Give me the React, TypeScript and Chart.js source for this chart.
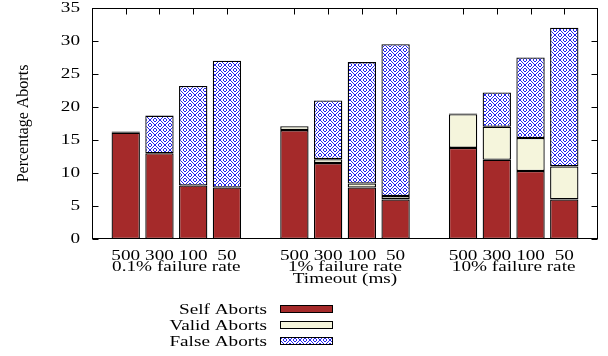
import React, { useEffect, useRef } from "react";
import { Chart, registerables } from "chart.js";

Chart.register(...registerables);

// ---- data ----
const timeouts = ["500", "300", "100", "50"];
const groups = ["0.1% failure rate", "1% failure rate", "10% failure rate"];
const selfAborts = [16.1, 13.0, 8.1, 7.8, 16.5, 11.5, 7.8, 6.0, 13.8, 12.0, 10.3, 6.0];
const validAborts = [0.2, 0, 0, 0, 0.6, 0.6, 0.6, 0.5, 5.1, 5.0, 5.0, 5.0];
const falseAborts = [0, 5.7, 15.1, 19.2, 0, 8.9, 18.4, 23.0, 0.1, 5.2, 12.2, 21.0];
const yTicks = [0, 5, 10, 15, 20, 25, 30, 35];
const xTitle = "Timeout (ms)";
const yTitle = "Percentage Aborts";
const seriesNames = ["Self Aborts", "Valid Aborts", "False Aborts"];

const FAMILY = "\"Liberation Serif\", \"Times New Roman\", Times, serif";
const FONT = "15px " + FAMILY;
const SX = 1.28;

function txt(ctx: CanvasRenderingContext2D, s: string, x: number, y: number, align: CanvasTextAlign, baseline: CanvasTextBaseline = "alphabetic") {
  ctx.save();
  ctx.translate(x, y);
  ctx.scale(SX, 1);
  ctx.textAlign = align;
  ctx.textBaseline = baseline;
  ctx.fillText(s, 0, 0);
  ctx.restore();
}

function makePattern(ctx: CanvasRenderingContext2D): CanvasPattern | string {
  const c = document.createElement("canvas");
  c.width = 10;
  c.height = 10;
  const p = c.getContext("2d");
  if (!p) return "#8080ff";
  p.fillStyle = "#ffffff";
  p.fillRect(0, 0, 10, 10);
  p.fillStyle = "#2424f0";
  const pts: number[][] = [];
  for (let i = 0; i < 10; i++) {
    pts.push([i, i]);
    pts.push([9 - i, i]);
  }
  const ring = [
    [4, 8], [5, 8], [3, 9], [6, 9], [3, 0], [6, 0], [4, 1], [5, 1],
    [8, 4], [8, 5], [9, 3], [9, 6], [0, 3], [0, 6], [1, 4], [1, 5],
  ];
  for (const [x, y] of pts.concat(ring)) p.fillRect(x, y, 1, 1);
  return ctx.createPattern(c, "repeat") || "#8080ff";
}

function pad(arr: number[]): (number | null)[] {
  const out: (number | null)[] = [null];
  groups.forEach((_, g) => {
    for (let i = 0; i < timeouts.length; i++) {
      const v = arr[g * timeouts.length + i];
      out.push(v > 0 ? v : null);
    }
    out.push(null);
  });
  return out;
}

export default function App() {
  const ref = useRef<HTMLCanvasElement | null>(null);
  useEffect(() => {
    const canvas = ref.current;
    if (!canvas) return;
    const ctx = canvas.getContext("2d")!;
    const pattern = makePattern(ctx);
    const colors: (string | CanvasPattern)[] = ["#a52a2a", "#f5f5dc", pattern];

    const labels: string[] = [""];
    groups.forEach(() => {
      timeouts.forEach((t) => labels.push(t));
      labels.push("");
    });

    const decor = {
      id: "decor",
      afterDatasetsDraw(chart: any) {
        const c: CanvasRenderingContext2D = chart.ctx;
        const ca = chart.chartArea;
        const xs = chart.scales.x;
        const ys = chart.scales.y;
        c.save();
        c.strokeStyle = "#000";
        c.fillStyle = "#000";
        c.lineWidth = 1;
        const L = Math.round(ca.left) + 0.5;
        const R = Math.round(ca.right) - 0.5;
        const T = Math.round(ca.top) + 0.5;
        const B = Math.round(ca.bottom) - 0.5;
        c.strokeRect(L, T, R - L, B - T);
        c.font = FONT;
        // y ticks
        yTicks.forEach((v) => {
          const py = Math.round(ys.getPixelForValue(v)) + 0.5;
          c.beginPath();
          c.moveTo(L, py);
          c.lineTo(L + 6, py);
          c.moveTo(R, py);
          c.lineTo(R - 6, py);
          c.stroke();
          txt(c, String(v), ca.left - 12, ys.getPixelForValue(v), "right", "middle");
        });
        // x ticks + labels
        labels.forEach((lab, i) => {
          if (!lab) return;
          const px = Math.round(xs.getPixelForValue(i)) + 0.5;
          c.beginPath();
          c.moveTo(px, T);
          c.lineTo(px, T + 6);
          c.stroke();
          txt(c, lab, xs.getPixelForValue(i), ca.bottom + 21, "center");
        });
        // group labels
        groups.forEach((g, gi) => {
          const first = 1 + gi * (timeouts.length + 1);
          const last = first + timeouts.length - 1;
          const cx = (xs.getPixelForValue(first) + xs.getPixelForValue(last)) / 2;
          txt(c, g, cx, ca.bottom + 32, "center");
        });
        // x title
        txt(c, xTitle, (ca.left + ca.right) / 2, ca.bottom + 44, "center");
        // y title
        c.save();
        c.translate(24, (ca.top + ca.bottom) / 2);
        c.rotate(-Math.PI / 2);
        c.font = "16px " + FAMILY;
        c.textAlign = "center";
        c.textBaseline = "middle";
        c.fillText(yTitle, 0, 0);
        c.restore();
        // legend
        const textRight = 267;
        const swX = 280;
        const swW = 53;
        const rows = [314, 330, 346];
        seriesNames.forEach((name, k) => {
          c.fillStyle = "#000";
          txt(c, name, textRight, rows[k], "right");
          c.fillStyle = colors[k] as any;
          c.fillRect(swX, rows[k] - 9, swW, 8);
          c.strokeStyle = "#000";
          c.strokeRect(swX + 0.5, rows[k] - 8.5, swW - 1, 7);
        });
        c.restore();
      },
    };

    const mk = (name: string, arr: number[], k: number) => ({
      label: name,
      data: pad(arr),
      backgroundColor: colors[k],
      borderColor: "#000",
      borderWidth: 1.3,
      borderSkipped: false,
      barPercentage: 0.84,
      categoryPercentage: 1,
      stack: "s",
    });

    const chart = new Chart(ctx, {
      type: "bar",
      data: {
        labels,
        datasets: [
          mk(seriesNames[0], selfAborts, 0),
          mk(seriesNames[1], validAborts, 1),
          mk(seriesNames[2], falseAborts, 2),
        ] as any,
      },
      options: {
        animation: false,
        responsive: false,
        font: { family: FAMILY },
        layout: { padding: { top: 8, right: 10, left: 0, bottom: 0 } },
        plugins: { legend: { display: false }, tooltip: { enabled: false } },
        scales: {
          x: {
            type: "category",
            stacked: true,
            offset: false,
            grid: { display: false },
            border: { display: false },
            ticks: { display: false },
            afterFit: (s: any) => {
              s.height = 117;
            },
          },
          y: {
            stacked: true,
            min: 0,
            max: 35,
            ticks: { display: false, stepSize: 5 },
            grid: { display: false },
            border: { display: false },
            afterFit: (s: any) => {
              s.width = 92;
            },
          },
        },
      } as any,
      plugins: [decor],
    });
    let alive = true;
    if ((document as any).fonts && (document as any).fonts.load) {
      Promise.all([
        (document as any).fonts.load(FONT, "0123456789 Aborts"),
        (document as any).fonts.load("16px " + FAMILY, "Percentage"),
      ]).then(() => {
        if (alive) chart.draw();
      }).catch(() => {});
    }
    return () => {
      alive = false;
      chart.destroy();
    };
  }, []);

  return (
    <div style={{ position: "absolute", left: 0, top: 0, width: 608, height: 356, background: "#fff" }}>
      <canvas ref={ref} width={608} height={356} style={{ display: "block" }} />
    </div>
  );
}
